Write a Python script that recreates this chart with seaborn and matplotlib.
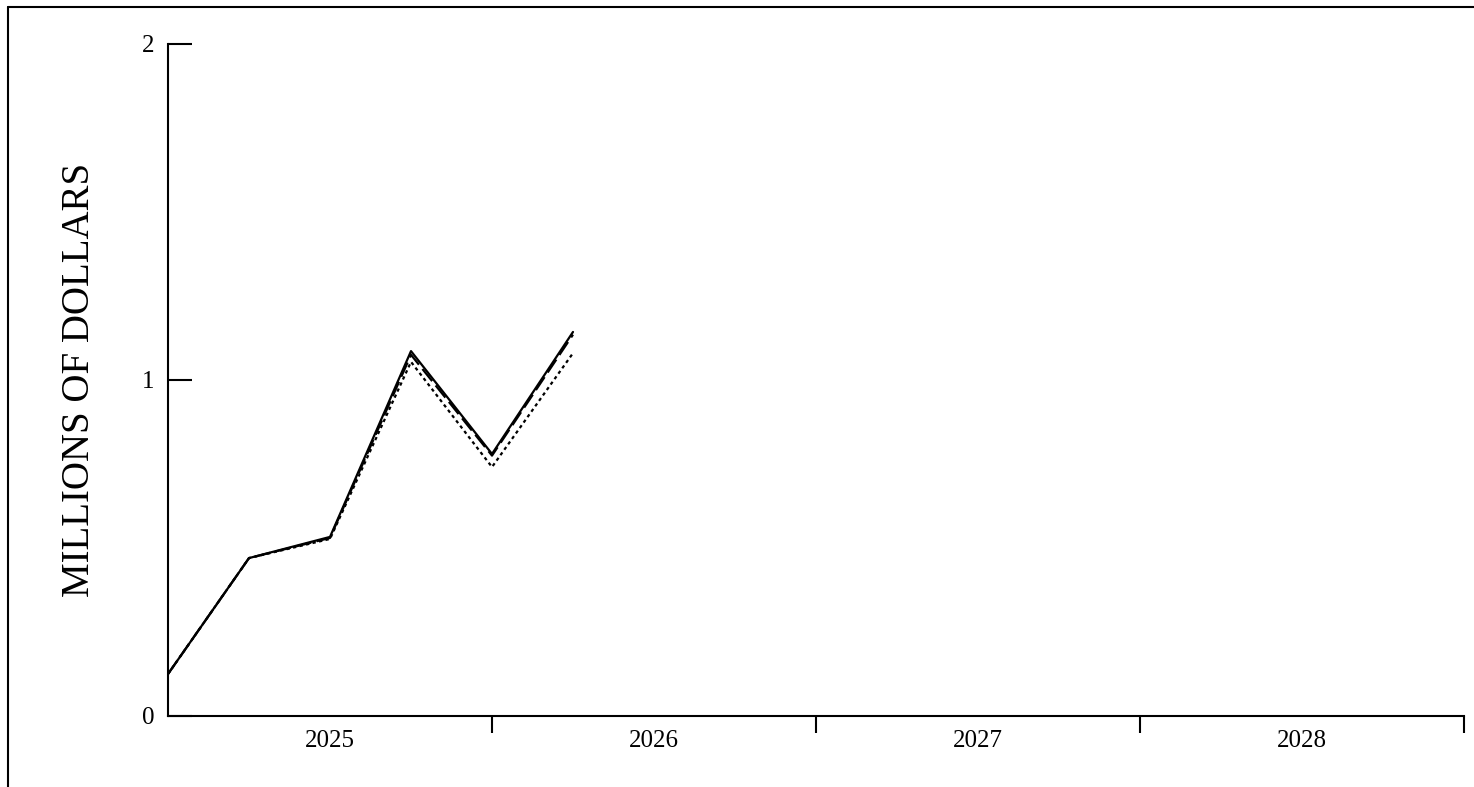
import matplotlib
matplotlib.use("Agg")
import matplotlib.pyplot as plt
from matplotlib.lines import Line2D
from matplotlib.ticker import FixedLocator, NullFormatter, FixedFormatter
import numpy as np
import pandas as pd
import seaborn as sns

# quarterly positions (decimal years) and values in millions of dollars
quarters = [2025.0, 2025.25, 2025.5, 2025.75, 2026.0, 2026.25]
series_solid = [0.125, 0.47, 0.533, 1.086, 0.78, 1.143]
series_dashed = [0.125, 0.47, 0.530, 1.075, 0.775, 1.135]
series_dotted = [0.125, 0.47, 0.527, 1.054, 0.741, 1.080]
series_names = ["Series A", "Series B", "Series C"]

year_labels = ["2025", "2026", "2027", "2028"]
year_bounds = [2026, 2027, 2028, 2029]
y_ticks = [0, 1, 2]


def build_frame():
    rows = {"quarter": [], "value": [], "series": []}
    for name, vals in zip(series_names, [series_solid, series_dashed, series_dotted]):
        rows["quarter"] += quarters
        rows["value"] += vals
        rows["series"] += [name] * len(vals)
    return pd.DataFrame(rows)


def plot_chart(df):
    sns.set_theme(style="white")
    plt.rcParams["font.family"] = ["Liberation Serif", "DejaVu Serif"]

    fig = plt.figure(figsize=(14.74, 7.87), dpi=100)
    ax = fig.add_axes([168 / 1474, 1 - 716 / 787, (1464 - 168) / 1474, (716 - 44) / 787])

    sns.lineplot(
        data=df,
        x="quarter",
        y="value",
        hue="series",
        style="series",
        hue_order=series_names,
        style_order=series_names,
        palette=["black"] * 3,
        dashes={"Series A": "", "Series B": (7, 2.5), "Series C": (1.5, 1.5)},
        linewidth=1.6,
        legend=False,
        ax=ax,
    )

    ax.set_xlim(2025, 2029)
    ax.set_ylim(0, 2)

    ax.xaxis.set_major_locator(FixedLocator(year_bounds))
    ax.xaxis.set_major_formatter(NullFormatter())
    ax.xaxis.set_minor_locator(FixedLocator([y - 0.5 for y in year_bounds]))
    ax.xaxis.set_minor_formatter(FixedFormatter(year_labels))
    ax.tick_params(axis="x", which="major", direction="out", length=12.5, width=1.5, color="black")
    ax.tick_params(axis="x", which="minor", length=0, pad=10, labelsize=18, labelcolor="black")

    ax.set_yticks(y_ticks)
    ax.set_yticklabels([str(t) for t in y_ticks])
    ax.tick_params(axis="y", direction="in", length=17.5, width=1.5, pad=9.5, labelsize=18,
                   color="black", labelcolor="black")
    for lab in ax.get_yticklabels():
        lab.set_verticalalignment("center_baseline")
    ax.tick_params(axis="both", which="both", bottom=True, left=True)

    for side in ["top", "right"]:
        ax.spines[side].set_visible(False)
    for side in ["left", "bottom"]:
        ax.spines[side].set_color("black")
        ax.spines[side].set_linewidth(1.5)

    ax.set_xlabel("")
    ax.set_ylabel("MILLIONS OF DOLLARS", fontsize=28, color="black")
    ax.yaxis.set_label_coords(-0.054, 0.5)
    ax.grid(False)

    # outer frame (left and top edges visible)
    fig.add_artist(Line2D([8 / 1474, 8 / 1474], [0, 1 - 7 / 787], transform=fig.transFigure,
                          color="black", linewidth=1.5))
    fig.add_artist(Line2D([8 / 1474, 1], [1 - 7 / 787, 1 - 7 / 787], transform=fig.transFigure,
                          color="black", linewidth=1.5))

    fig.savefig("out.png", dpi=100)
    plt.close(fig)


plot_chart(build_frame())
